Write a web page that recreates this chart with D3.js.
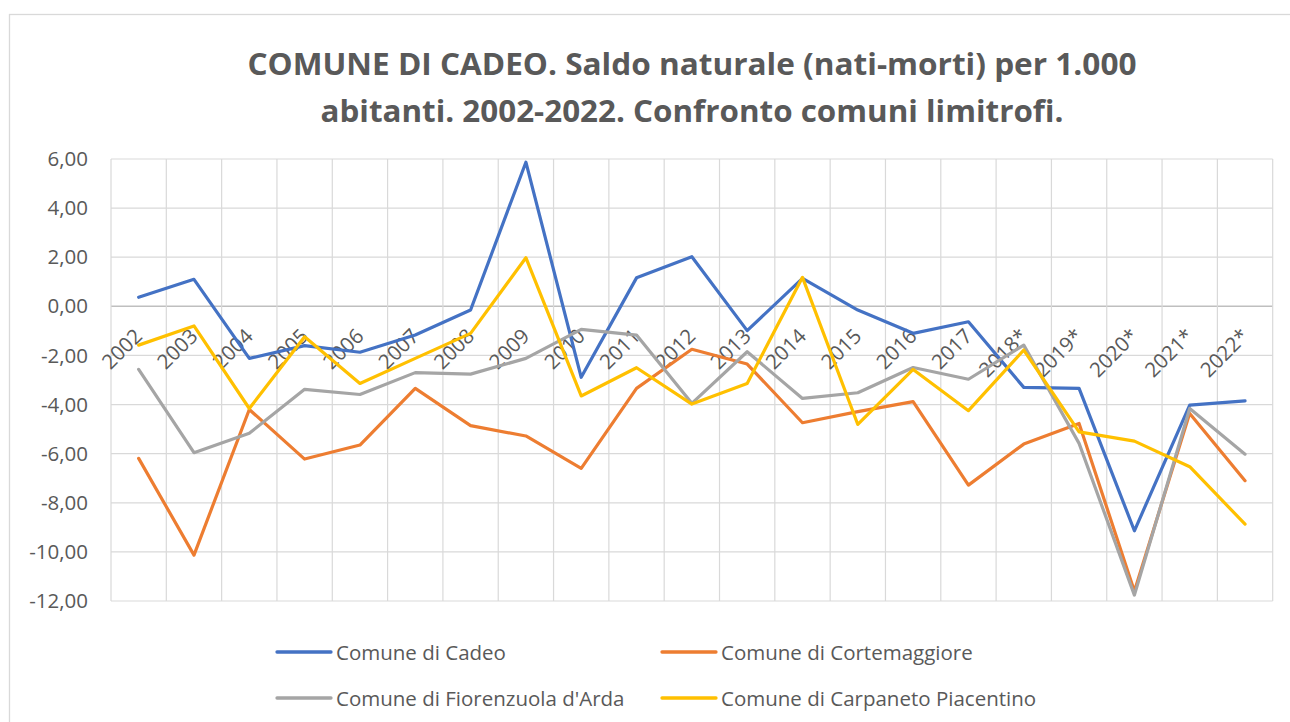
<!DOCTYPE html>
<html>
<head>
<meta charset="utf-8">
<script src="https://cdn.jsdelivr.net/npm/d3@7/dist/d3.min.js"></script>
<style>
  html, body { margin: 0; padding: 0; background: #ffffff; }
  svg { display: block; }
  text { font-family: "Open Sans", "Noto Sans", sans-serif; fill: #595959; }
</style>
</head>
<body>
<svg id="chart" width="1290" height="722"></svg>
<script>
const titleLines = [
  "COMUNE DI CADEO. Saldo naturale (nati-morti) per 1.000",
  "abitanti. 2002-2022. Confronto comuni limitrofi."
];
const years = ["2002","2003","2004","2005","2006","2007","2008","2009","2010","2011","2012",
               "2013","2014","2015","2016","2017","2018*","2019*","2020*","2021*","2022*"];
const seriesNames = ["Comune di Cadeo","Comune di Cortemaggiore","Comune di Fiorenzuola d'Arda","Comune di Carpaneto Piacentino"];
const cadeo =        [0.37, 1.10, -2.12, -1.60, -1.87, -1.17, -0.15, 5.87, -2.89, 1.16, 2.02, -0.99, 1.14, -0.15, -1.10, -0.63, -3.30, -3.34, -9.14, -4.02, -3.85];
const cortemaggiore = [-6.19, -10.13, -4.20, -6.22, -5.65, -3.34, -4.86, -5.28, -6.60, -3.34, -1.75, -2.35, -4.74, -4.29, -3.88, -7.28, -5.61, -4.77, -11.60, -4.36, -7.10];
const fiorenzuola =  [-2.57, -5.96, -5.17, -3.38, -3.59, -2.70, -2.76, -2.12, -0.94, -1.17, -3.95, -1.85, -3.75, -3.52, -2.49, -2.97, -1.58, -5.58, -11.76, -4.16, -6.02];
const carpaneto =    [-1.58, -0.80, -4.16, -1.24, -3.14, -2.12, -1.10, 1.98, -3.65, -2.50, -3.98, -3.14, 1.18, -4.81, -2.57, -4.25, -1.78, -5.11, -5.49, -6.53, -8.87];
const yTicks = [6, 4, 2, 0, -2, -4, -6, -8, -10, -12];
const colors = ["#4472C4", "#ED7D31", "#A5A5A5", "#FFC000"];

const seriesValues = [cadeo, cortemaggiore, fiorenzuola, carpaneto];

const svg = d3.select("#chart");

// outer chart border
svg.append("rect")
  .attr("x", 9.5).attr("y", 14.5)
  .attr("width", 1320).attr("height", 740)
  .attr("fill", "#ffffff")
  .attr("stroke", "#d9d9d9").attr("stroke-width", 1.3);

// title
const titleBaselines = [75, 122];
const titleWidths = [889, 743];
titleLines.forEach((t, i) => {
  svg.append("text")
    .attr("x", 692).attr("y", titleBaselines[i])
    .attr("text-anchor", "middle")
    .attr("font-size", 30.5)
    .attr("font-weight", "bold")
    .attr("textLength", titleWidths[i])
    .attr("lengthAdjust", "spacingAndGlyphs")
    .text(t);
});

const plotLeft = 111, plotRight = 1272.7, plotTop = 159, plotBottom = 601;

const x = d3.scaleBand().domain(years).range([plotLeft, plotRight]).paddingInner(0).paddingOuter(0);
const y = d3.scaleLinear().domain([-12, 6]).range([plotBottom, plotTop]);
const cx = d => x(d) + x.bandwidth() / 2;

const locale = d3.formatLocale({ decimal: ",", thousands: ".", grouping: [3], currency: ["", "€"], minus: "-" });
const fmt = locale.format(".2f");

// horizontal gridlines
svg.append("g").selectAll("line")
  .data(yTicks)
  .join("line")
  .attr("x1", plotLeft).attr("x2", plotRight)
  .attr("y1", d => y(d)).attr("y2", d => y(d))
  .attr("stroke", d => d === 0 ? "#bfbfbf" : "#d9d9d9")
  .attr("stroke-width", d => d === 0 ? 1.5 : 1.2);

// vertical gridlines at category boundaries
const boundaries = years.map(d => x(d)).concat([plotRight]);
svg.append("g").selectAll("line")
  .data(boundaries)
  .join("line")
  .attr("x1", d => d).attr("x2", d => d)
  .attr("y1", plotTop).attr("y2", plotBottom)
  .attr("stroke", "#d9d9d9")
  .attr("stroke-width", 1.2);

// y axis labels
const yAxis = d3.axisLeft(y).tickValues(yTicks).tickFormat(fmt).tickSize(0).tickPadding(0);
const yg = svg.append("g").attr("transform", `translate(88,0)`).call(yAxis);
yg.select(".domain").remove();
yg.selectAll("text")
  .attr("font-size", 20.5)
  .attr("fill", "#595959")
  .attr("font-family", "'Open Sans', sans-serif");

// x axis labels (axis crosses at zero)
const xAxis = d3.axisBottom(x).tickSize(0).tickPadding(0);
const xg = svg.append("g").attr("transform", `translate(0,${y(0)})`).call(xAxis);
xg.select(".domain").remove();
xg.selectAll(".tick text")
  .attr("font-size", 20.5)
  .attr("fill", "#595959")
  .attr("font-family", "'Open Sans', sans-serif")
  .attr("text-anchor", "end")
  .attr("dy", null)
  .attr("y", 0)
  .attr("transform", "translate(5,31) rotate(-45)");

// series lines
const line = d3.line()
  .x((d, i) => cx(years[i]))
  .y(d => y(d));

svg.append("g").selectAll("path")
  .data(seriesValues)
  .join("path")
  .attr("d", d => line(d))
  .attr("fill", "none")
  .attr("stroke", (d, i) => colors[i])
  .attr("stroke-width", 3.2)
  .attr("stroke-linejoin", "round")
  .attr("stroke-linecap", "round");

// legend
const legendPos = [
  { lx: 277, ly: 652 },
  { lx: 662, ly: 652 },
  { lx: 277, ly: 698 },
  { lx: 662, ly: 698 }
];
const lg = svg.append("g").selectAll("g")
  .data(seriesNames)
  .join("g")
  .attr("transform", (d, i) => `translate(${legendPos[i].lx},${legendPos[i].ly})`);
lg.append("line")
  .attr("x1", 0).attr("x2", 54).attr("y1", 0).attr("y2", 0)
  .attr("stroke", (d, i) => colors[i])
  .attr("stroke-width", 3.3)
  .attr("stroke-linecap", "round");
lg.append("text")
  .attr("x", 59).attr("y", 7.5)
  .attr("font-size", 20.5)
  .attr("fill", "#595959")
  .text(d => d);
</script>
</body>
</html>
